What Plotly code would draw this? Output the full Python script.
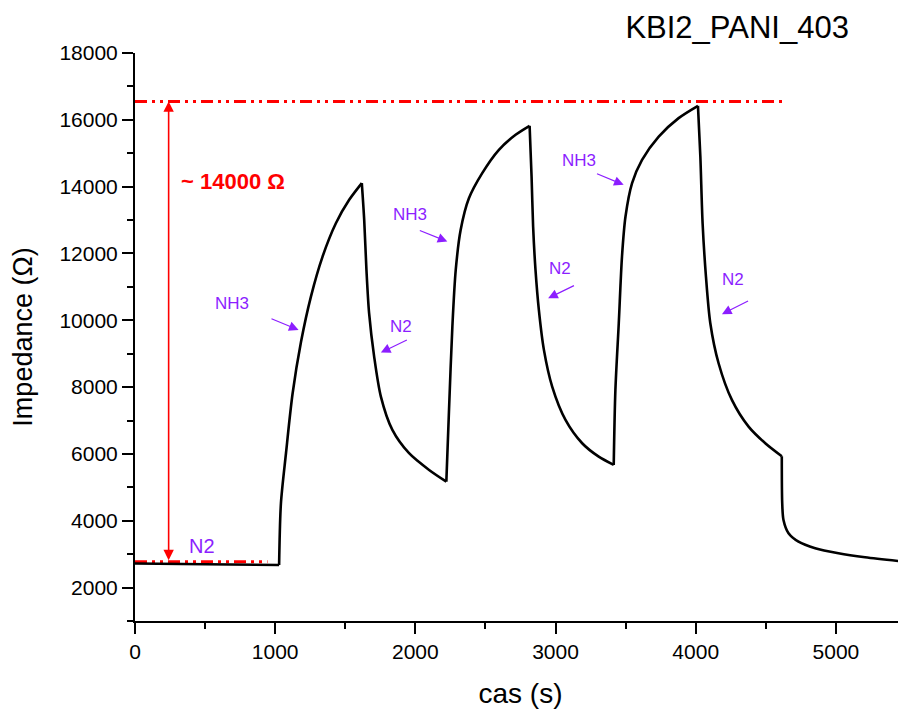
import plotly.graph_objects as go

# ---- data ----
time_s = [0, 500, 1028, 1041, 1077, 1124, 1184, 1255, 1338, 1433, 1528, 1618,
          1635, 1651, 1670, 1706, 1754, 1836, 1955, 2098, 2221,
          2240, 2264, 2288, 2323, 2382, 2477, 2596, 2715, 2815,
          2829, 2840, 2857, 2881, 2917, 2976, 3071, 3190, 3308, 3415,
          3427, 3451, 3474, 3499, 3546, 3617, 3736, 3878, 4016,
          4033, 4049, 4073, 4104, 4163, 4258, 4377, 4496, 4614,
          4617, 4626, 4662, 4733, 4852, 5018, 5208, 5500]
impedance = [2720, 2700, 2677, 4524, 6021, 7800, 9350, 10710, 11907, 12906, 13605, 14105,
             13006, 11509, 10212, 8914, 7716, 6719, 6021, 5521, 5171,
             7317, 9811, 11509, 12700, 13650, 14404, 15102, 15551, 15820,
             14303, 12806, 11509, 10311, 9114, 8015, 7018, 6320, 5919, 5671,
             7916, 9913, 11907, 13105, 14104, 14802, 15500, 16051, 16419,
             14901, 12906, 11309, 9913, 8715, 7617, 6817, 6320, 5930,
             4524, 4024, 3626, 3374, 3177, 3027, 2907, 2770]
# indices where the gas is switched (corners of the curve)
switch_idx = [0, 2, 11, 20, 29, 39, 48, 57, len(time_s) - 1]

top_level = 16550
base_level = 2775
top_line_x = [0, 4645]
base_line_x = [0, 945]
delta_label = "~ 14000 Ω"

FONT = "Arial, Liberation Sans, sans-serif"
RED = "#FF0000"
PURPLE = "#8C1EFF"

fig = go.Figure()

fig.add_trace(go.Scatter(x=top_line_x, y=[top_level, top_level], mode="lines",
                         line=dict(color=RED, width=3, dash="12px,5px,3px,5px,3px,5px"),
                         hoverinfo="skip", showlegend=False))
fig.add_trace(go.Scatter(x=base_line_x, y=[base_level, base_level], mode="lines",
                         line=dict(color=RED, width=3, dash="12px,5px,3px,5px,3px,5px"),
                         hoverinfo="skip", showlegend=False))
for a, b in zip(switch_idx[:-1], switch_idx[1:]):
    fig.add_trace(go.Scatter(x=time_s[a:b + 1], y=impedance[a:b + 1], mode="lines",
                             line=dict(color="black", width=2.6, shape="spline", smoothing=0.8),
                             showlegend=False))

ann = []
# double-headed red arrow
ann.append(dict(x=240, y=top_level, ax=240, ay=base_level, xref="x", yref="y",
                axref="x", ayref="y", text="", showarrow=True, arrowside="end+start",
                arrowhead=2, arrowsize=1.3, arrowwidth=1.6, arrowcolor=RED))
ann.append(dict(x=317, y=14144, xref="x", yref="y", text="<b>" + delta_label + "</b>",
                showarrow=False, xanchor="left", yanchor="middle",
                font=dict(family=FONT, size=22, color=RED)))
ann.append(dict(x=480, y=3230, xref="x", yref="y", text="N2", showarrow=False,
                xanchor="center", yanchor="middle",
                font=dict(family=FONT, size=20, color=PURPLE)))

labels = [
    ("NH3", 692, 10491, 963, 10063, 1167, 9713),
    ("N2", 1896, 9811, 1950, 9434, 1754, 9033),
    ("NH3", 1960, 13156, 2021, 12707, 2228, 12356),
    ("N2", 3031, 11560, 3142, 11060, 2947, 10662),
    ("NH3", 3166, 14781, 3285, 14404, 3486, 14054),
    ("N2", 4265, 11231, 4384, 10602, 4187, 10183),
]
for txt, tx, ty, ax_, ay_, hx, hy in labels:
    ann.append(dict(x=tx, y=ty, xref="x", yref="y", text=txt, showarrow=False,
                    xanchor="center", yanchor="middle",
                    font=dict(family=FONT, size=17, color=PURPLE)))
    ann.append(dict(x=hx, y=hy, ax=ax_, ay=ay_, xref="x", yref="y", axref="x", ayref="y",
                    text="", showarrow=True, arrowhead=2, arrowsize=1.6,
                    arrowwidth=1.2, arrowcolor=PURPLE))

axis_common = dict(showline=True, linecolor="black", linewidth=2, showgrid=False,
                   zeroline=False, ticks="outside", ticklen=11, tickwidth=2,
                   tickcolor="black", tickfont=dict(family=FONT, size=21, color="black"),
                   tickformat="d", mirror=False)

fig.update_layout(
    width=898, height=701,
    margin=dict(l=127, r=0, t=45, b=88, autoexpand=False),
    paper_bgcolor="white", plot_bgcolor="white",
    title=dict(text="KBI2_PANI_403", x=0.781, y=0.973, xanchor="center", yanchor="middle",
               xref="paper", yref="container",
               font=dict(family=FONT, size=31, color="black")),
    xaxis=dict(range=[0, 5500], dtick=1000, tick0=0,
               minor=dict(ticks="outside", dtick=500, ticklen=6, tickwidth=2, tickcolor="black"),
               title=dict(text="cas (s)", standoff=24, font=dict(family=FONT, size=28, color="black")),
               **axis_common),
    yaxis=dict(range=[1000, 18000], dtick=2000, tick0=0,
               minor=dict(ticks="outside", dtick=1000, ticklen=6, tickwidth=2, tickcolor="black"),
               title=dict(text="Impedance (Ω)", standoff=37, font=dict(family=FONT, size=27, color="black")),
               **axis_common),
    annotations=ann,
    showlegend=False,
)

fig.write_html("out.html")
